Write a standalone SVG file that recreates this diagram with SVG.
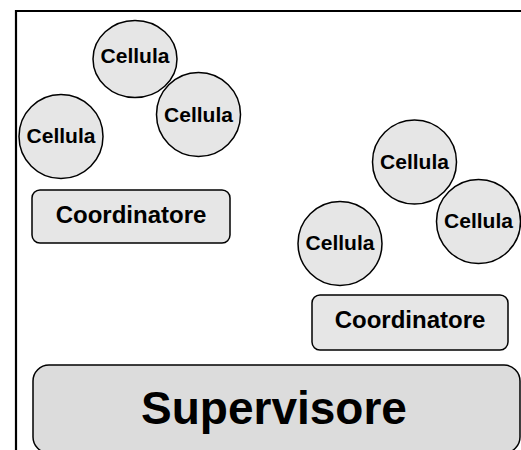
<svg xmlns="http://www.w3.org/2000/svg" width="521" height="450" viewBox="0 0 521 450">
<style>
.cell{fill:#e6e6e6;stroke:#000;stroke-width:1.5}
.coord{fill:#e6e6e6;stroke:#000;stroke-width:1.5}
.sup{fill:#dcdcdc;stroke:#000;stroke-width:1.5}
.t{font-family:"Liberation Sans",Arial,sans-serif;font-weight:bold;fill:#000;text-anchor:middle}
.tc{font-size:21px}
.tk{font-size:24px}
.ts{font-size:46px}
.frame{stroke:#000;stroke-width:2.2;fill:none}
</style>
<rect width="521" height="450" fill="#fff"/>
<g id="frame"><path class="frame" d="M16 450 V11 H521"/></g>
<g id="connectors"></g>
<g id="cella1"><ellipse class="cell" cx="135" cy="59" rx="42" ry="38.5"/><text class="t tc" x="135" y="63">Cellula</text></g>
<g id="cella2"><circle class="cell" cx="198.5" cy="114.5" r="42"/><text class="t tc" x="198.5" y="121.5">Cellula</text></g>
<g id="cella3"><circle class="cell" cx="61" cy="136.5" r="42"/><text class="t tc" x="61" y="143">Cellula</text></g>
<g id="coord1"><rect class="coord" x="32" y="190" width="198" height="53" rx="8"/><text class="t tk" x="131" y="222.5">Coordinatore</text></g>
<g id="cella4"><circle class="cell" cx="414.5" cy="162" r="42"/><text class="t tc" x="414.5" y="169">Cellula</text></g>
<g id="cella5"><circle class="cell" cx="478.5" cy="221.5" r="42"/><text class="t tc" x="478.5" y="228">Cellula</text></g>
<g id="cella6"><circle class="cell" cx="340" cy="243.5" r="42"/><text class="t tc" x="340" y="249.5">Cellula</text></g>
<g id="coord2"><rect class="coord" x="312" y="295" width="196" height="55" rx="8"/><text class="t tk" x="410" y="327.5">Coordinatore</text></g>
<g id="supervisore"><rect class="sup" x="33" y="365" width="487" height="88" rx="16"/><text class="t ts" x="274" y="424">Supervisore</text></g>
</svg>
